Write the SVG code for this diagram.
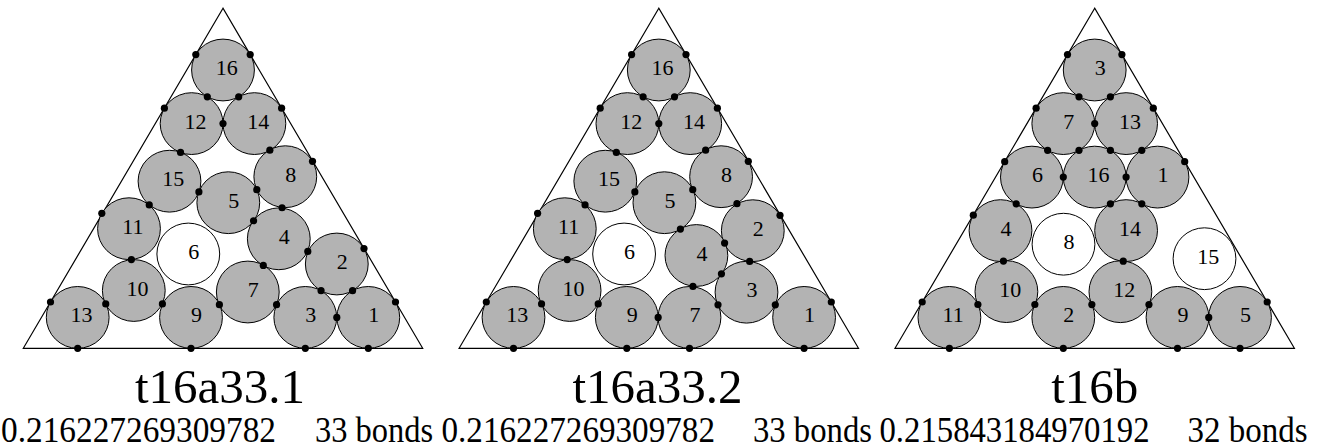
<svg xmlns="http://www.w3.org/2000/svg" width="1318" height="448" viewBox="0 0 1318 448">
<style>
.c{fill:#b3b3b3;stroke:#000;stroke-width:1}
.w{fill:#fff;stroke:#000;stroke-width:1}
.t{fill:none;stroke:#000;stroke-width:1.2}
.d{fill:#000}
.n{font-family:"Liberation Serif","Times New Roman",serif;font-size:22px;text-anchor:middle;fill:#000}
.h{font-family:"Liberation Serif","Times New Roman",serif;font-size:49px;text-anchor:middle;fill:#000}
.s{font-family:"Liberation Serif","Times New Roman",serif;font-size:35px;fill:#000}
</style>
<rect width="1318" height="448" fill="#fff"/>

<!-- Panel 1: t16a33.1 -->
<g id="p1">
<polygon id="p1-tri" class="t" points="223,8.3 23.3,348.3 422.7,348.3"/>
<g id="p1-n16"><ellipse class="c" cx="223" cy="70" rx="31.4" ry="30.9"/><text class="n" x="226.8" y="75">16</text></g>
<g id="p1-n12"><ellipse class="c" cx="191.6" cy="123.6" rx="31.4" ry="30.9"/><text class="n" x="195.4" y="128.6">12</text></g>
<g id="p1-n14"><ellipse class="c" cx="254.4" cy="123.6" rx="31.4" ry="30.9"/><text class="n" x="258.2" y="128.6">14</text></g>
<g id="p1-n15"><ellipse class="c" cx="169.5" cy="181.2" rx="31.4" ry="30.9"/><text class="n" x="173.3" y="186.2">15</text></g>
<g id="p1-n5"><ellipse class="c" cx="228.3" cy="202.7" rx="31.4" ry="30.9"/><text class="n" x="233.8" y="207.7">5</text></g>
<g id="p1-n8"><ellipse class="c" cx="285.3" cy="176.7" rx="31.4" ry="30.9"/><text class="n" x="290.8" y="181.7">8</text></g>
<g id="p1-n11"><ellipse class="c" cx="129" cy="228.7" rx="31.4" ry="30.9"/><text class="n" x="132.8" y="233.7">11</text></g>
<g id="p1-n6"><ellipse class="w" cx="188.3" cy="254" rx="31.4" ry="30.9"/><text class="n" x="193.8" y="259">6</text></g>
<g id="p1-n4"><ellipse class="c" cx="278.8" cy="238.8" rx="31.4" ry="30.9"/><text class="n" x="284.3" y="243.8">4</text></g>
<g id="p1-n2"><ellipse class="c" cx="336.8" cy="264" rx="31.4" ry="30.9"/><text class="n" x="342.3" y="269">2</text></g>
<g id="p1-n10"><ellipse class="c" cx="133.8" cy="290.5" rx="31.4" ry="30.9"/><text class="n" x="137.6" y="295.5">10</text></g>
<g id="p1-n7"><ellipse class="c" cx="247.8" cy="292" rx="31.4" ry="30.9"/><text class="n" x="253.3" y="297">7</text></g>
<g id="p1-n13"><ellipse class="c" cx="77.7" cy="317.4" rx="31.4" ry="30.9"/><text class="n" x="81.5" y="322.4">13</text></g>
<g id="p1-n9"><ellipse class="c" cx="191" cy="317.4" rx="31.4" ry="30.9"/><text class="n" x="196.5" y="322.4">9</text></g>
<g id="p1-n3"><ellipse class="c" cx="305.3" cy="317.4" rx="31.4" ry="30.9"/><text class="n" x="310.8" y="322.4">3</text></g>
<g id="p1-n1"><ellipse class="c" cx="368.3" cy="317.4" rx="31.4" ry="30.9"/><text class="n" x="373.8" y="322.4">1</text></g>
<g id="p1-bonds" class="d">
<circle cx="195.8" cy="54.6" r="3.6"/><circle cx="164.4" cy="108.2" r="3.6"/><circle cx="101.8" cy="213.3" r="3.6"/><circle cx="50.5" cy="302" r="3.6"/>
<circle cx="250.2" cy="54.6" r="3.6"/><circle cx="281.6" cy="108.2" r="3.6"/><circle cx="312.5" cy="161.3" r="3.6"/><circle cx="364" cy="248.6" r="3.6"/><circle cx="395.5" cy="302" r="3.6"/>
<circle cx="77.7" cy="348.3" r="3.6"/><circle cx="191" cy="348.3" r="3.6"/><circle cx="305.3" cy="348.3" r="3.6"/><circle cx="368.3" cy="348.3" r="3.6"/>
<circle cx="207.3" cy="96.8" r="3.6"/><circle cx="238.7" cy="96.8" r="3.6"/><circle cx="223" cy="123.6" r="3.6"/><circle cx="180.55" cy="152.4" r="3.6"/><circle cx="269.85" cy="150.15" r="3.6"/>
<circle cx="198.9" cy="191.95" r="3.6"/><circle cx="149.25" cy="204.95" r="3.6"/><circle cx="256.8" cy="189.7" r="3.6"/><circle cx="282.05" cy="207.75" r="3.6"/><circle cx="253.55" cy="220.75" r="3.6"/>
<circle cx="307.8" cy="251.4" r="3.6"/><circle cx="263.3" cy="265.4" r="3.6"/><circle cx="131.4" cy="259.6" r="3.6"/><circle cx="105.75" cy="303.95" r="3.6"/><circle cx="162.4" cy="303.95" r="3.6"/>
<circle cx="219.4" cy="304.7" r="3.6"/><circle cx="276.55" cy="304.7" r="3.6"/><circle cx="321.05" cy="290.7" r="3.6"/><circle cx="352.55" cy="290.7" r="3.6"/><circle cx="336.8" cy="317.4" r="3.6"/>
</g>
<text id="p1-title" class="h" x="220" y="402.5">t16a33.1</text>
<text id="p1-val" class="s" x="1" y="442.3" textLength="275" lengthAdjust="spacingAndGlyphs">0.216227269309782</text>
<text id="p1-bonds-label" class="s" x="315" y="442.3" textLength="118" lengthAdjust="spacingAndGlyphs">33 bonds</text>
</g>

<!-- Panel 2: t16a33.2 -->
<g id="p2">
<polygon id="p2-tri" class="t" points="658.8,8.3 459.1,348.3 858.5,348.3"/>
<g id="p2-n16"><ellipse class="c" cx="658.8" cy="70" rx="31.4" ry="30.9"/><text class="n" x="662.6" y="75">16</text></g>
<g id="p2-n12"><ellipse class="c" cx="627.4" cy="123.6" rx="31.4" ry="30.9"/><text class="n" x="631.2" y="128.6">12</text></g>
<g id="p2-n14"><ellipse class="c" cx="690.2" cy="123.6" rx="31.4" ry="30.9"/><text class="n" x="694" y="128.6">14</text></g>
<g id="p2-n15"><ellipse class="c" cx="605.3" cy="181.2" rx="31.4" ry="30.9"/><text class="n" x="609.1" y="186.2">15</text></g>
<g id="p2-n5"><ellipse class="c" cx="664.4" cy="202.7" rx="31.4" ry="30.9"/><text class="n" x="669.9" y="207.7">5</text></g>
<g id="p2-n8"><ellipse class="c" cx="721.1" cy="176.7" rx="31.4" ry="30.9"/><text class="n" x="726.6" y="181.7">8</text></g>
<g id="p2-n11"><ellipse class="c" cx="564.8" cy="228.7" rx="31.4" ry="30.9"/><text class="n" x="568.6" y="233.7">11</text></g>
<g id="p2-n6"><ellipse class="w" cx="624.1" cy="254" rx="31.4" ry="30.9"/><text class="n" x="629.6" y="259">6</text></g>
<g id="p2-n2"><ellipse class="c" cx="752.8" cy="230.7" rx="31.4" ry="30.9"/><text class="n" x="758.3" y="235.7">2</text></g>
<g id="p2-n4"><ellipse class="c" cx="696.4" cy="255.5" rx="31.4" ry="30.9"/><text class="n" x="701.9" y="260.5">4</text></g>
<g id="p2-n3"><ellipse class="c" cx="746.5" cy="292.2" rx="31.4" ry="30.9"/><text class="n" x="752" y="297.2">3</text></g>
<g id="p2-n10"><ellipse class="c" cx="569.6" cy="290.5" rx="31.4" ry="30.9"/><text class="n" x="573.4" y="295.5">10</text></g>
<g id="p2-n13"><ellipse class="c" cx="513.5" cy="317.4" rx="31.4" ry="30.9"/><text class="n" x="517.3" y="322.4">13</text></g>
<g id="p2-n9"><ellipse class="c" cx="626.8" cy="317.4" rx="31.4" ry="30.9"/><text class="n" x="632.3" y="322.4">9</text></g>
<g id="p2-n7"><ellipse class="c" cx="689.5" cy="317.4" rx="31.4" ry="30.9"/><text class="n" x="695" y="322.4">7</text></g>
<g id="p2-n1"><ellipse class="c" cx="804.1" cy="317.4" rx="31.4" ry="30.9"/><text class="n" x="809.6" y="322.4">1</text></g>
<g id="p2-bonds" class="d">
<circle cx="631.6" cy="54.6" r="3.6"/><circle cx="600.2" cy="108.2" r="3.6"/><circle cx="537.6" cy="213.3" r="3.6"/><circle cx="486.3" cy="302" r="3.6"/>
<circle cx="686" cy="54.6" r="3.6"/><circle cx="717.4" cy="108.2" r="3.6"/><circle cx="748.3" cy="161.3" r="3.6"/><circle cx="780" cy="215.3" r="3.6"/><circle cx="831.3" cy="302" r="3.6"/>
<circle cx="513.5" cy="348.3" r="3.6"/><circle cx="626.8" cy="348.3" r="3.6"/><circle cx="689.5" cy="348.3" r="3.6"/><circle cx="804.1" cy="348.3" r="3.6"/>
<circle cx="643.1" cy="96.8" r="3.6"/><circle cx="674.5" cy="96.8" r="3.6"/><circle cx="658.8" cy="123.6" r="3.6"/><circle cx="616.35" cy="152.4" r="3.6"/><circle cx="705.65" cy="150.15" r="3.6"/>
<circle cx="634.85" cy="191.95" r="3.6"/><circle cx="585.05" cy="204.95" r="3.6"/><circle cx="692.75" cy="189.7" r="3.6"/><circle cx="736.95" cy="203.7" r="3.6"/><circle cx="680.4" cy="229.1" r="3.6"/>
<circle cx="724.6" cy="243.1" r="3.6"/><circle cx="721.45" cy="273.85" r="3.6"/><circle cx="692.95" cy="286.45" r="3.6"/><circle cx="749.65" cy="261.45" r="3.6"/><circle cx="567.2" cy="259.6" r="3.6"/>
<circle cx="541.55" cy="303.95" r="3.6"/><circle cx="598.2" cy="303.95" r="3.6"/><circle cx="658.15" cy="317.4" r="3.6"/><circle cx="718" cy="304.8" r="3.6"/><circle cx="775.3" cy="304.8" r="3.6"/>
</g>
<text id="p2-title" class="h" x="657.5" y="402.5">t16a33.2</text>
<text id="p2-val" class="s" x="441.5" y="442.3" textLength="273.5" lengthAdjust="spacingAndGlyphs">0.216227269309782</text>
<text id="p2-bonds-label" class="s" x="753" y="442.3" textLength="119" lengthAdjust="spacingAndGlyphs">33 bonds</text>
</g>

<!-- Panel 3: t16b -->
<g id="p3">
<polygon id="p3-tri" class="t" points="1094.7,8.3 895,348.3 1294.4,348.3"/>
<g id="p3-n3"><ellipse class="c" cx="1094.7" cy="70" rx="31.4" ry="30.9"/><text class="n" x="1100.2" y="75">3</text></g>
<g id="p3-n7"><ellipse class="c" cx="1063.3" cy="123.6" rx="31.4" ry="30.9"/><text class="n" x="1068.8" y="128.6">7</text></g>
<g id="p3-n13"><ellipse class="c" cx="1126.1" cy="123.6" rx="31.4" ry="30.9"/><text class="n" x="1129.9" y="128.6">13</text></g>
<g id="p3-n6"><ellipse class="c" cx="1031.9" cy="177.1" rx="31.4" ry="30.9"/><text class="n" x="1037.4" y="182.1">6</text></g>
<g id="p3-n16"><ellipse class="c" cx="1094.7" cy="177.1" rx="31.4" ry="30.9"/><text class="n" x="1098.5" y="182.1">16</text></g>
<g id="p3-n1"><ellipse class="c" cx="1157.5" cy="177.1" rx="31.4" ry="30.9"/><text class="n" x="1163" y="182.1">1</text></g>
<g id="p3-n4"><ellipse class="c" cx="1000.5" cy="230.6" rx="31.4" ry="30.9"/><text class="n" x="1006" y="235.6">4</text></g>
<g id="p3-n8"><ellipse class="w" cx="1063.5" cy="244.2" rx="31.4" ry="30.9"/><text class="n" x="1069" y="249.2">8</text></g>
<g id="p3-n14"><ellipse class="c" cx="1126.1" cy="230.6" rx="31.4" ry="30.9"/><text class="n" x="1129.9" y="235.6">14</text></g>
<g id="p3-n15"><ellipse class="w" cx="1204.5" cy="258.7" rx="31.4" ry="30.9"/><text class="n" x="1208.3" y="263.7">15</text></g>
<g id="p3-n10"><ellipse class="c" cx="1006.4" cy="291.6" rx="31.4" ry="30.9"/><text class="n" x="1010.2" y="296.6">10</text></g>
<g id="p3-n12"><ellipse class="c" cx="1120.4" cy="291.7" rx="31.4" ry="30.9"/><text class="n" x="1124.2" y="296.7">12</text></g>
<g id="p3-n11"><ellipse class="c" cx="949.4" cy="317.4" rx="31.4" ry="30.9"/><text class="n" x="953.2" y="322.4">11</text></g>
<g id="p3-n2"><ellipse class="c" cx="1063.3" cy="317.4" rx="31.4" ry="30.9"/><text class="n" x="1068.8" y="322.4">2</text></g>
<g id="p3-n9"><ellipse class="c" cx="1177.5" cy="317.4" rx="31.4" ry="30.9"/><text class="n" x="1183" y="322.4">9</text></g>
<g id="p3-n5"><ellipse class="c" cx="1240" cy="317.4" rx="31.4" ry="30.9"/><text class="n" x="1245.5" y="322.4">5</text></g>
<g id="p3-bonds" class="d">
<circle cx="1067.5" cy="54.6" r="3.6"/><circle cx="1036.1" cy="108.2" r="3.6"/><circle cx="1004.7" cy="161.7" r="3.6"/><circle cx="973.3" cy="215.2" r="3.6"/><circle cx="922.2" cy="302" r="3.6"/>
<circle cx="1121.9" cy="54.6" r="3.6"/><circle cx="1153.3" cy="108.2" r="3.6"/><circle cx="1184.7" cy="161.7" r="3.6"/><circle cx="1267.2" cy="302" r="3.6"/>
<circle cx="949.4" cy="348.3" r="3.6"/><circle cx="1063.3" cy="348.3" r="3.6"/><circle cx="1177.5" cy="348.3" r="3.6"/><circle cx="1240" cy="348.3" r="3.6"/>
<circle cx="1079" cy="96.8" r="3.6"/><circle cx="1110.4" cy="96.8" r="3.6"/><circle cx="1094.7" cy="123.6" r="3.6"/><circle cx="1047.6" cy="150.35" r="3.6"/><circle cx="1079" cy="150.35" r="3.6"/>
<circle cx="1110.4" cy="150.35" r="3.6"/><circle cx="1141.8" cy="150.35" r="3.6"/><circle cx="1063.3" cy="177.1" r="3.6"/><circle cx="1126.1" cy="177.1" r="3.6"/><circle cx="1016.2" cy="203.85" r="3.6"/>
<circle cx="1110.4" cy="203.85" r="3.6"/><circle cx="1141.8" cy="203.85" r="3.6"/><circle cx="1003.45" cy="261.1" r="3.6"/><circle cx="1123.25" cy="261.15" r="3.6"/><circle cx="977.9" cy="304.5" r="3.6"/>
<circle cx="1034.85" cy="304.5" r="3.6"/><circle cx="1091.85" cy="304.55" r="3.6"/><circle cx="1148.95" cy="304.55" r="3.6"/><circle cx="1208.75" cy="317.4" r="3.6"/>
</g>
<text id="p3-title" class="h" x="1094.7" y="402.5">t16b</text>
<text id="p3-val" class="s" x="879.5" y="442.3" textLength="270" lengthAdjust="spacingAndGlyphs">0.215843184970192</text>
<text id="p3-bonds-label" class="s" x="1187.5" y="442.3" textLength="120" lengthAdjust="spacingAndGlyphs">32 bonds</text>
</g>
</svg>
